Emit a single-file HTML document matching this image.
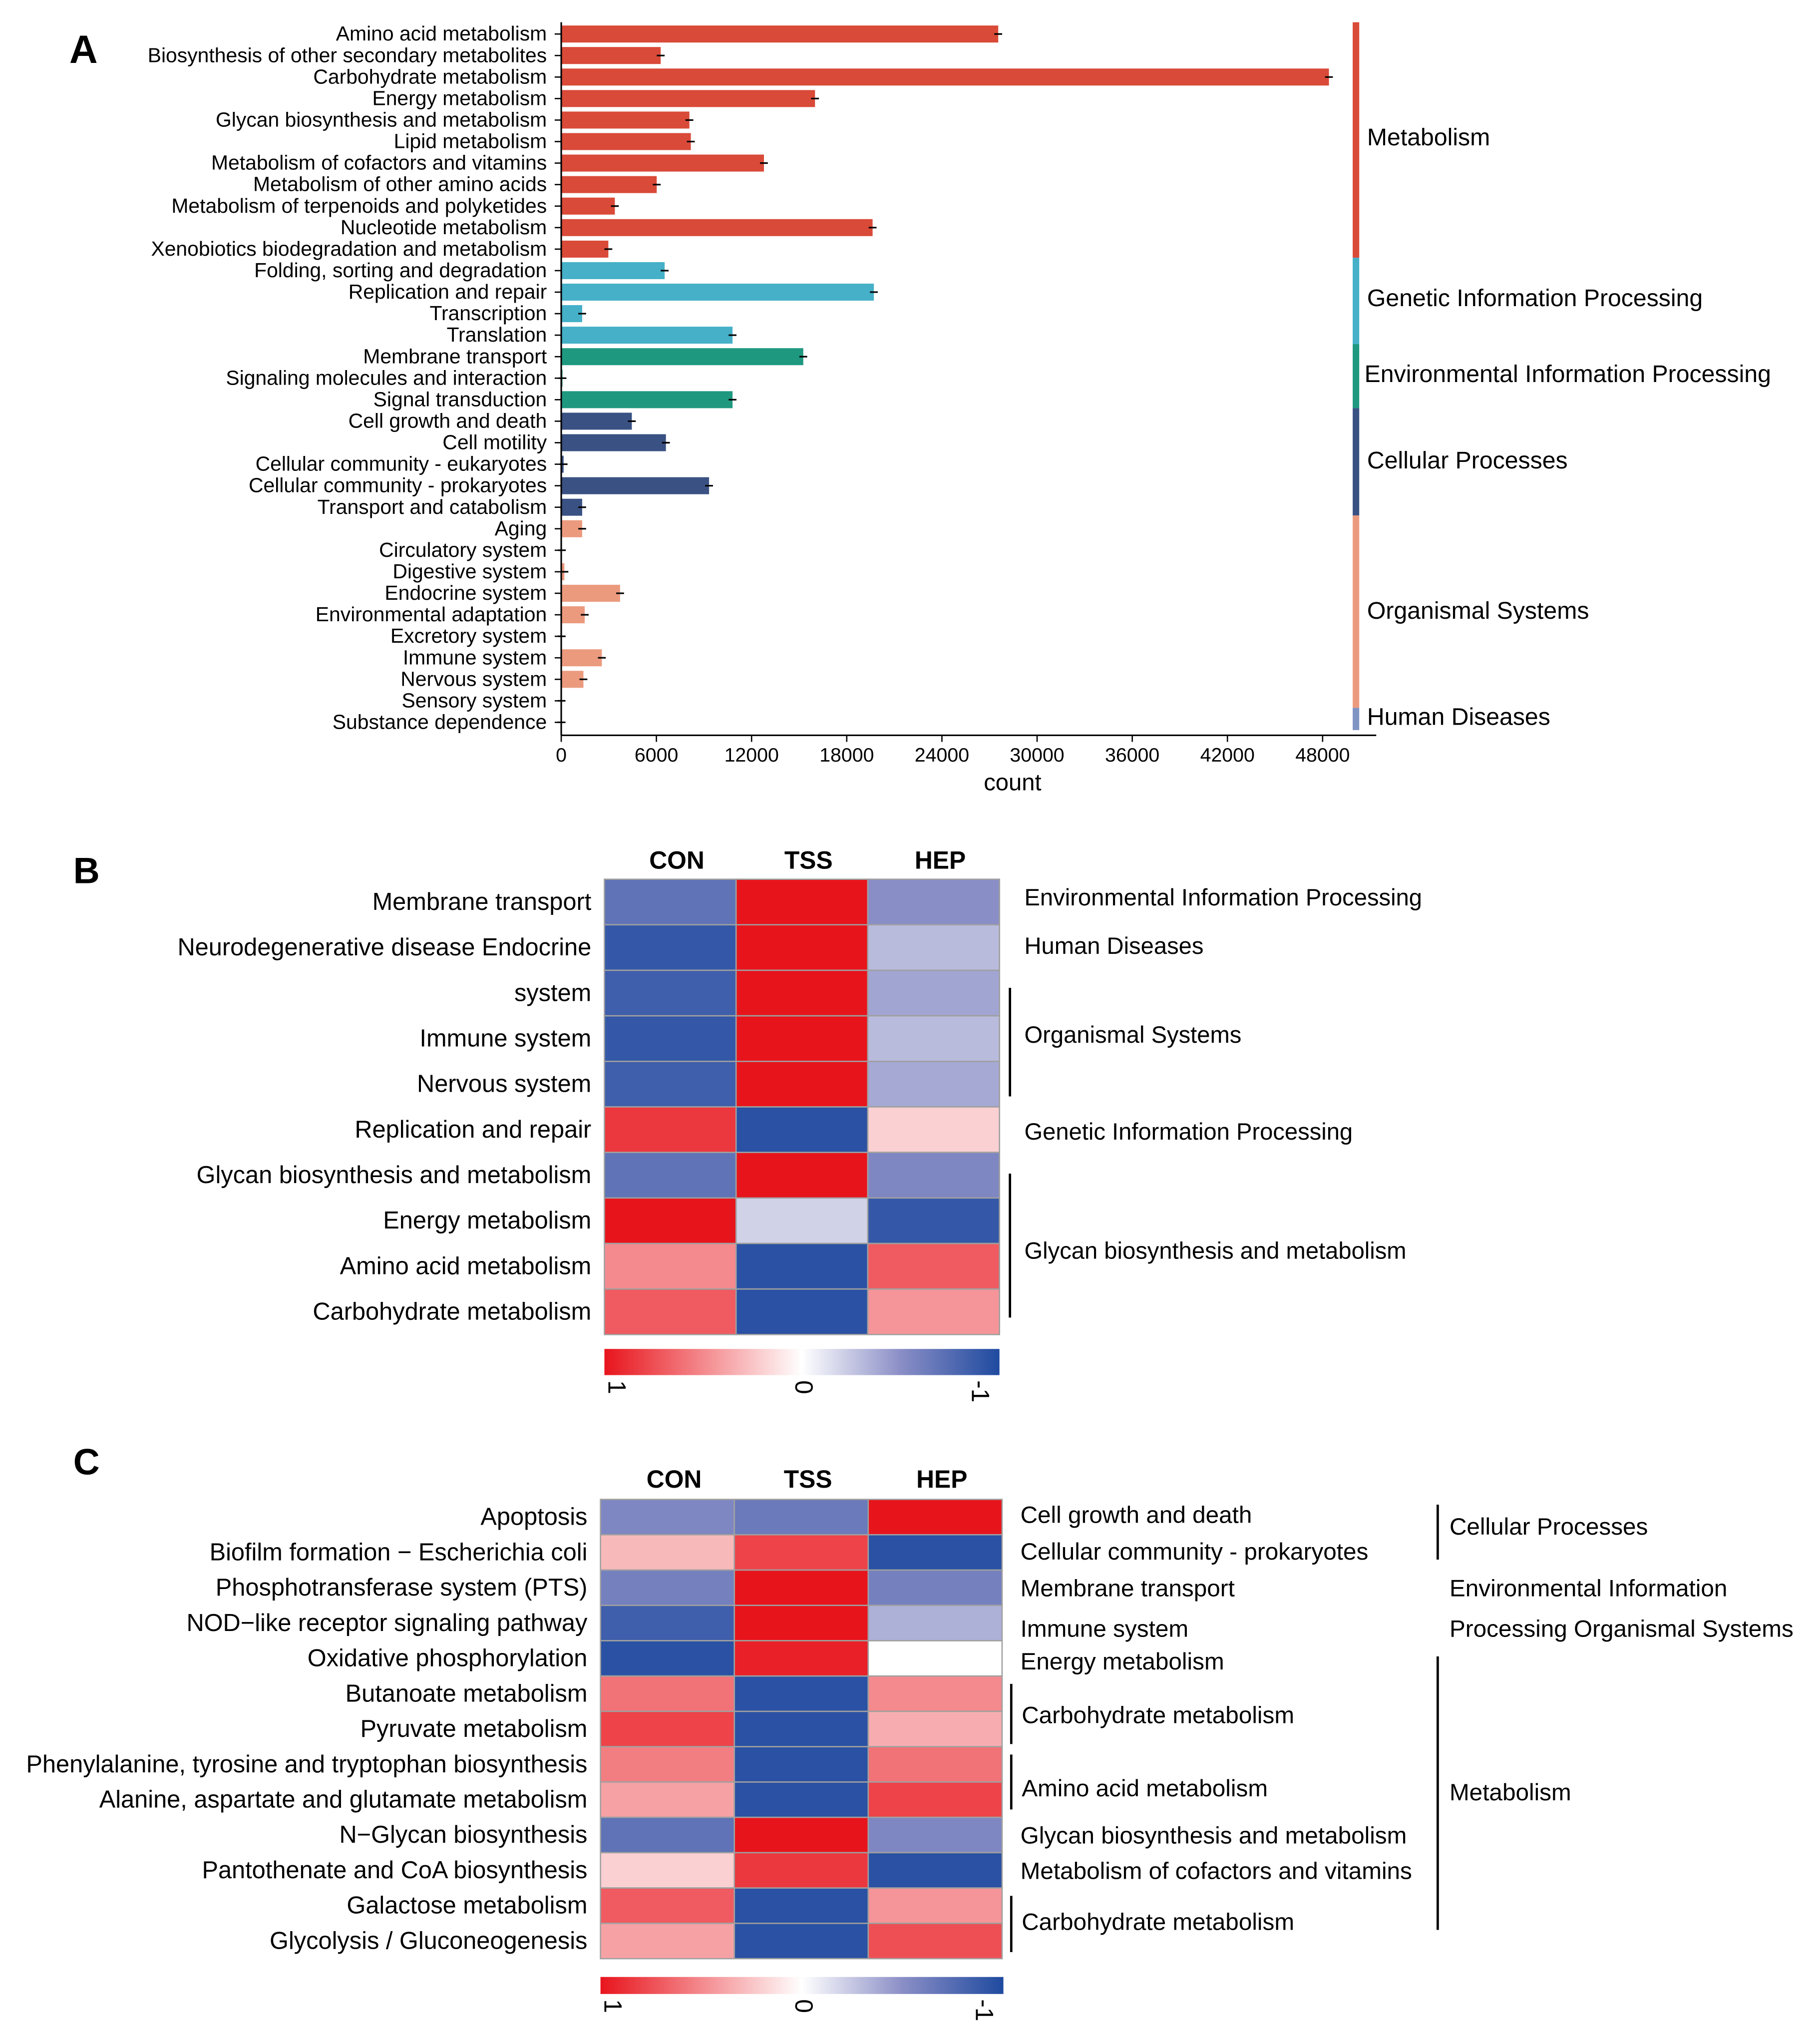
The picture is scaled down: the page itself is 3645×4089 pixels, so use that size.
<!DOCTYPE html>
<html><head><meta charset="utf-8"><style>
html,body{margin:0;padding:0;background:#fff}
svg{display:block;font-family:"Liberation Sans",sans-serif}
</style></head><body>
<svg id="fig" width="3645" height="4089" viewBox="0 0 1391.2 1560.7" xmlns="http://www.w3.org/2000/svg">
<g id="A"></g>
<g id="B"></g>
<g id="C"></g>
</svg>
<script>
const aCategories=["Amino acid metabolism","Biosynthesis of other secondary metabolites","Carbohydrate metabolism","Energy metabolism","Glycan biosynthesis and metabolism","Lipid metabolism","Metabolism of cofactors and vitamins","Metabolism of other amino acids","Metabolism of terpenoids and polyketides","Nucleotide metabolism","Xenobiotics biodegradation and metabolism","Folding, sorting and degradation","Replication and repair","Transcription","Translation","Membrane transport","Signaling molecules and interaction","Signal transduction","Cell growth and death","Cell motility","Cellular community - eukaryotes","Cellular community - prokaryotes","Transport and catabolism","Aging","Circulatory system","Digestive system","Endocrine system","Environmental adaptation","Excretory system","Immune system","Nervous system","Sensory system","Substance dependence"];
const aValues=[27550,6270,48400,16000,8080,8170,12780,6020,3380,19630,2970,6520,19710,1320,10800,15260,80,10800,4450,6600,150,9320,1320,1320,40,200,3710,1480,30,2560,1400,20,20];
const aGroupIdx=[0,0,0,0,0,0,0,0,0,0,0,1,1,1,1,2,2,2,3,3,3,3,3,4,4,4,4,4,4,4,4,4,4];
const aGroups=["Metabolism","Genetic Information Processing","Environmental Information Processing","Cellular Processes","Organismal Systems","Human Diseases"];
const aTicks=[0,6000,12000,18000,24000,30000,36000,42000,48000];

const bRows=["Membrane transport","Neurodegenerative disease Endocrine","system","Immune system","Nervous system","Replication and repair","Glycan biosynthesis and metabolism","Energy metabolism","Amino acid metabolism","Carbohydrate metabolism"];
const bCON=[-0.7,-0.9,-0.85,-0.9,-0.85,0.85,-0.7,1,0.5,0.7];
const bTSS=[1,1,1,1,1,-0.95,1,-0.2,-0.95,-0.95];
const bHEP=[-0.5,-0.3,-0.4,-0.3,-0.38,0.2,-0.55,-0.9,0.7,0.45];

const cRows=["Apoptosis","Biofilm formation \u2212 Escherichia coli","Phosphotransferase system (PTS)","NOD\u2212like receptor signaling pathway","Oxidative phosphorylation","Butanoate metabolism","Pyruvate metabolism","Phenylalanine, tyrosine and tryptophan biosynthesis","Alanine, aspartate and glutamate metabolism","N\u2212Glycan biosynthesis","Pantothenate and CoA biosynthesis","Galactose metabolism","Glycolysis / Gluconeogenesis"];
const cCON=[-0.55,0.3,-0.6,-0.85,-0.95,0.6,0.8,0.55,0.4,-0.7,0.2,0.7,0.4];
const cTSS=[-0.65,0.8,1,1,0.95,-0.95,-0.95,-0.95,-0.95,1,0.85,-0.95,-0.95];
const cHEP=[1,-0.95,-0.6,-0.35,0.0,0.5,0.35,0.6,0.8,-0.55,-0.95,0.45,0.75];

const NS="http://www.w3.org/2000/svg";
function mk(parent,tag,attrs,text){const e=document.createElementNS(NS,tag);for(const k in attrs)e.setAttribute(k,attrs[k]);if(text!==undefined)e.textContent=text;parent.appendChild(e);return e;}

/* Panel A */
const A=document.getElementById('A');
const gColors=["#d94a38","#45b0c8","#1f9880","#3a5183","#ec9a7e","#8094c4"];
const ax0=429,ax1=1011;
const xA=v=>ax0+(v/48000)*(ax1-ax0);
const yA=i=>26+i*16.44;
let t=mk(A,'text',{x:53,y:48,'font-size':30,'font-weight':'bold'},'A');

aCategories.forEach((c,i)=>{
  const y=yA(i);
  const lab=mk(A,'text',{x:418,y:y+5,'font-size':15.6,'text-anchor':'end'},c);
  
  mk(A,'line',{x1:424,x2:429,y1:y,y2:y,stroke:'#000','stroke-width':1});
  const b=mk(A,'rect',{x:ax0,y:y-6.5,width:Math.max(0,xA(aValues[i])-ax0),height:13,fill:gColors[aGroupIdx[i]]});
  
  const xe=xA(aValues[i]);
  mk(A,'line',{x1:xe-3,x2:xe+3,y1:y,y2:y,stroke:'#000','stroke-width':1.2});
});
mk(A,'line',{x1:429,x2:429,y1:17,y2:562,stroke:'#000','stroke-width':1.2});
mk(A,'line',{x1:429,x2:1052,y1:562,y2:562,stroke:'#000','stroke-width':1.2});
aTicks.forEach(v=>{
  const x=xA(v);
  mk(A,'line',{x1:x,x2:x,y1:562,y2:567,stroke:'#000','stroke-width':1});
  const l=mk(A,'text',{x:x,y:582,'font-size':15,'text-anchor':'middle'},String(v));
  
});
t=mk(A,'text',{x:774,y:604,'font-size':18,'text-anchor':'middle'},'count');

const gSpans=[[17,197],[197,263],[263,312],[312,394],[394,541],[541,558]];
const gLabY=[105,228,286,352,467,548];
gSpans.forEach((s,k)=>{
  const r=mk(A,'rect',{x:1034,y:s[0],width:5,height:s[1]-s[0],fill:gColors[k]});
  
  const l=mk(A,'text',{x:k==2?1043:1045,y:gLabY[k]+6,'font-size':18.4},aGroups[k]);
  
});

/* color scale */
function hx(c){return [parseInt(c.slice(1,3),16),parseInt(c.slice(3,5),16),parseInt(c.slice(5,7),16)];}
const RED=hx('#e8141c'),BMID=hx('#8a8ec6'),BLUE=hx('#1f4a9f'),WH=[255,255,255];
function lerp(a,b,f){return a.map((x,i)=>Math.round(x+(b[i]-x)*f));}
function col(v){let c;const a=Math.min(1,Math.abs(v));
  if(v>=0)c=lerp(WH,RED,a);else c=a<=0.5?lerp(WH,BMID,a/0.5):lerp(BMID,BLUE,(a-0.5)/0.5);
  return 'rgb('+c.join(',')+')';}

function heat(G,o){
  const cols=[o.c0,o.c1,o.c2];
  const cw=(o.x1-o.x0)/3,rh=(o.y1-o.y0)/o.rows.length;
  let t=mk(G,'text',{x:o.lx,y:o.ly,'font-size':28,'font-weight':'bold'},o.letter);
  
  ["CON","TSS","HEP"].forEach((h,j)=>{
    const l=mk(G,'text',{x:o.x0+cw*(j+0.55),y:o.hy,'font-size':19,'font-weight':'bold','text-anchor':'middle'},h);
    
  });
  o.rows.forEach((r,i)=>{
    const y=o.y0+i*rh;
    const l=mk(G,'text',{x:o.x0-10,y:y+rh/2+6,'font-size':o.fs,'text-anchor':'end'},r);
    
    cols.forEach((arr,j)=>{
      const c=mk(G,'rect',{x:o.x0+j*cw,y:y,width:cw,height:rh,fill:col(arr[i]),stroke:'#a0a0a0','stroke-width':1});
      
    });
  });
  const gid='grad'+o.letter;
  const d=mk(G,'defs',{});const lg=mk(d,'linearGradient',{id:gid,x1:0,x2:1,y1:0,y2:0});
  mk(lg,'stop',{offset:0,'stop-color':'#e8141c'});mk(lg,'stop',{offset:0.5,'stop-color':'#ffffff'});mk(lg,'stop',{offset:0.75,'stop-color':'#8a8ec6'});mk(lg,'stop',{offset:1,'stop-color':'#1f4a9f'});
  const cb=mk(G,'rect',{x:o.x0,y:o.cby,width:o.cbw,height:o.cbh,fill:'url(#'+gid+')'});
  
  [["1",o.x0+8],["0",o.x0+o.cbw/2],["-1",o.x0+o.cbw-16]].forEach(p=>{
    const ty=o.cby+o.cbh+4;
    const l=mk(G,'text',{x:p[1],y:ty,'font-size':19,transform:'rotate(90 '+p[1]+' '+ty+')','dominant-baseline':'middle'},p[0]);
    
  });
}
const B=document.getElementById('B');
heat(B,{letter:'B',lx:56,ly:675,rows:bRows,c0:bCON,c1:bTSS,c2:bHEP,x0:462,x1:764,y0:672,y1:1020,hy:664,fs:18.6,cby:1031,cbw:302,cbh:20});
[["Environmental Information Processing",686],["Human Diseases",723],["Organismal Systems",791],["Genetic Information Processing",865],["Glycan biosynthesis and metabolism",956]].forEach(p=>{
  const l=mk(B,'text',{x:783,y:p[1]+6,'font-size':18},p[0]);
  
});
[[755,838],[897,1007]].forEach(s=>{const l=mk(B,'line',{x1:772,x2:772,y1:s[0],y2:s[1],stroke:'#000','stroke-width':1.8});});

const C=document.getElementById('C');
heat(C,{letter:'C',lx:56,ly:1127,rows:cRows,c0:cCON,c1:cTSS,c2:cHEP,x0:459,x1:766,y0:1146,y1:1497,hy:1137,fs:18.6,cby:1511,cbw:308,cbh:13});
[["Cell growth and death",780,1158],["Cellular community - prokaryotes",780,1186],["Membrane transport",780,1214],["Immune system",780,1245],["Energy metabolism",780,1270],["Carbohydrate metabolism",781,1311],["Amino acid metabolism",781,1367],["Glycan biosynthesis and metabolism",780,1403],["Metabolism of cofactors and vitamins",780,1430],["Carbohydrate metabolism",781,1469],
 ["Cellular Processes",1108,1167],["Environmental Information",1108,1214],["Processing Organismal Systems",1108,1245],["Metabolism",1108,1370]].forEach(p=>{
  const l=mk(C,'text',{x:p[1],y:p[2]+6,'font-size':18.2},p[0]);
  
});
[[1099,1150,1192],[1099,1266,1475],[773,1287,1333],[773,1341,1383],[773,1449,1492]].forEach(s=>{const l=mk(C,'line',{x1:s[0],x2:s[0],y1:s[1],y2:s[2],stroke:'#000','stroke-width':1.8});});
</script>
</body></html>
